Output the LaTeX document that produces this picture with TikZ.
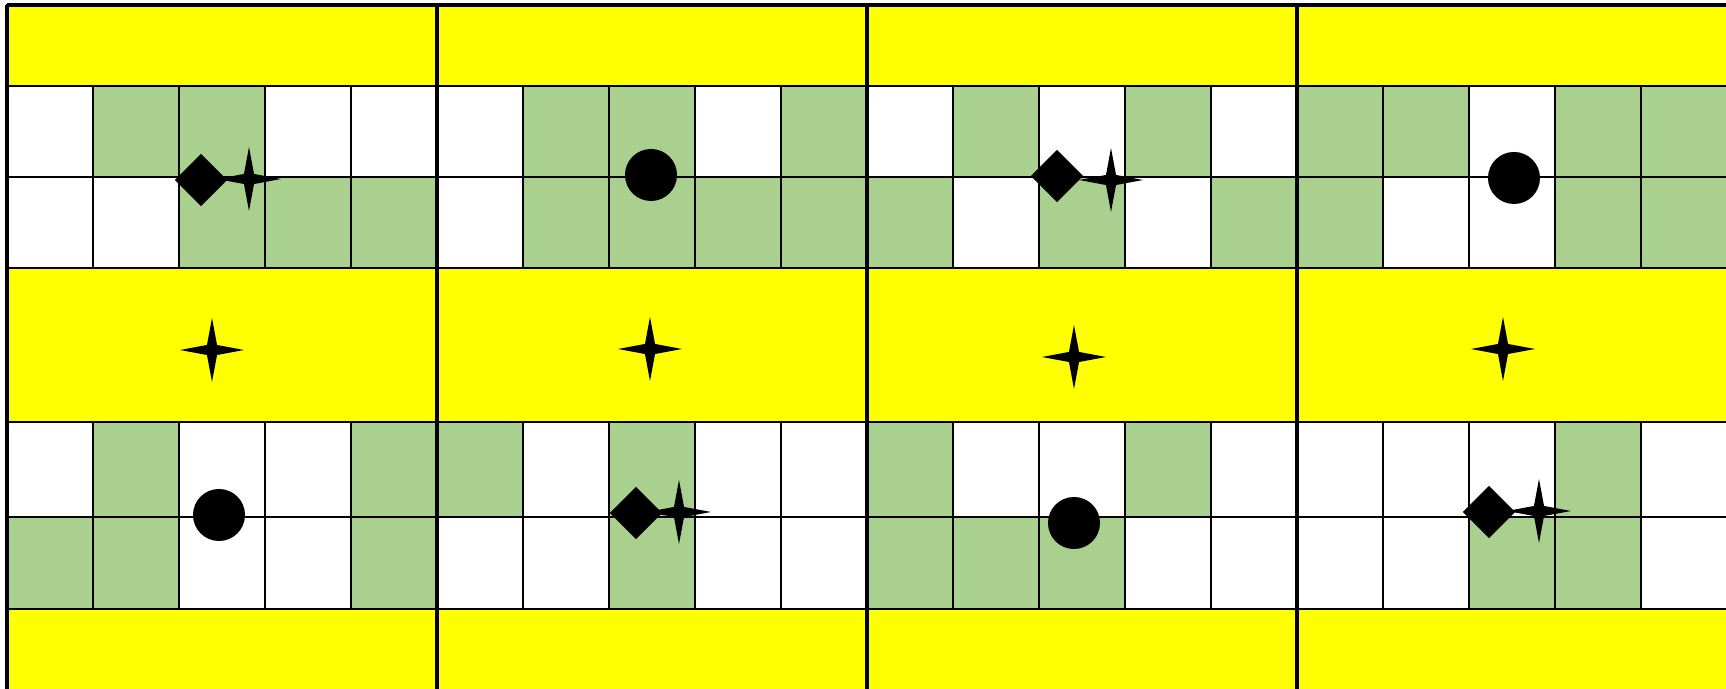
\documentclass[tikz,border=0pt]{standalone}
\usetikzlibrary{shapes.geometric}
\definecolor{leaf}{RGB}{169,208,142}
\definecolor{sun}{RGB}{255,255,0}
\colorlet{cell0}{white}
\colorlet{cell1}{leaf}
\tikzset{
  cell/.style={draw=black, line width=0.5pt},
  band/.style={fill=sun, draw=black, line width=0.5pt},
  wall/.style={line width=1.1pt},
  dot/.style={circle, fill=black, inner sep=0pt, minimum size=0.52cm},
  gem/.style={diamond, fill=black, inner sep=0pt, minimum size=0.53cm},
  spark/.style={star, star points=4, star point ratio=4.5, fill=black, inner sep=0pt, minimum size=0.64cm}
}
\begin{document}
\begin{tikzpicture}[x=0.01cm, y=-0.01cm]
        \useasboundingbox (0,0) rectangle (1726,689);
        \clip (0,0) rectangle (1726,689);
        % yellow bands
        \foreach \ya/\yb in {5/86, 268/422, 609/700}
            \draw[band] (7,\ya) rectangle (1727,\yb);
        % cells, 20 per row
        \foreach \ya/\yb/\cells in {
            86/177/{0,1,1,0,0, 0,1,1,0,1, 0,1,0,1,0, 1,1,0,1,1},
            177/268/{0,0,1,1,1, 0,1,1,1,1, 1,0,1,0,1, 1,0,0,1,1},
            422/517/{0,1,0,0,1, 1,0,1,0,0, 1,0,0,1,0, 0,0,0,1,0},
            517/609/{1,1,0,0,1, 0,0,1,0,0, 1,1,1,0,0, 0,0,1,1,0}}
            \foreach \g [count=\k from 0] in \cells
                \draw[cell, fill=cell\g] ({7+86*\k},\ya) rectangle ({93+86*\k},\yb);
        % panel walls
        \draw[wall] (7,5) -- (1727,5);
        \foreach \x in {7, 437, 867, 1297}
            \draw[wall] (\x,5) -- (\x,700);
        % upper rows
        \node[gem] (g1) at (201,180) {};
        \node[spark] (s1) at (249,179) {};
        \node[dot] (c1) at (651,175) {};
        \node[gem] (g2) at (1057,176) {};
        \node[spark] (s2) at (1111,180) {};
        \node[dot] (c2) at (1514,178) {};
        % middle band
        \node[spark] (m1) at (212,350) {};
        \node[spark] (m2) at (650,349) {};
        \node[spark] (m3) at (1074,357) {};
        \node[spark] (m4) at (1503,349) {};
        % lower rows
        \node[dot] (c3) at (219,515) {};
        \node[gem] (g3) at (636,513) {};
        \node[spark] (s3) at (679,512) {};
        \node[dot] (c4) at (1074,523) {};
        \node[gem] (g4) at (1489,512) {};
        \node[spark] (s4) at (1539,511) {};
    \end{tikzpicture}
\end{document}
